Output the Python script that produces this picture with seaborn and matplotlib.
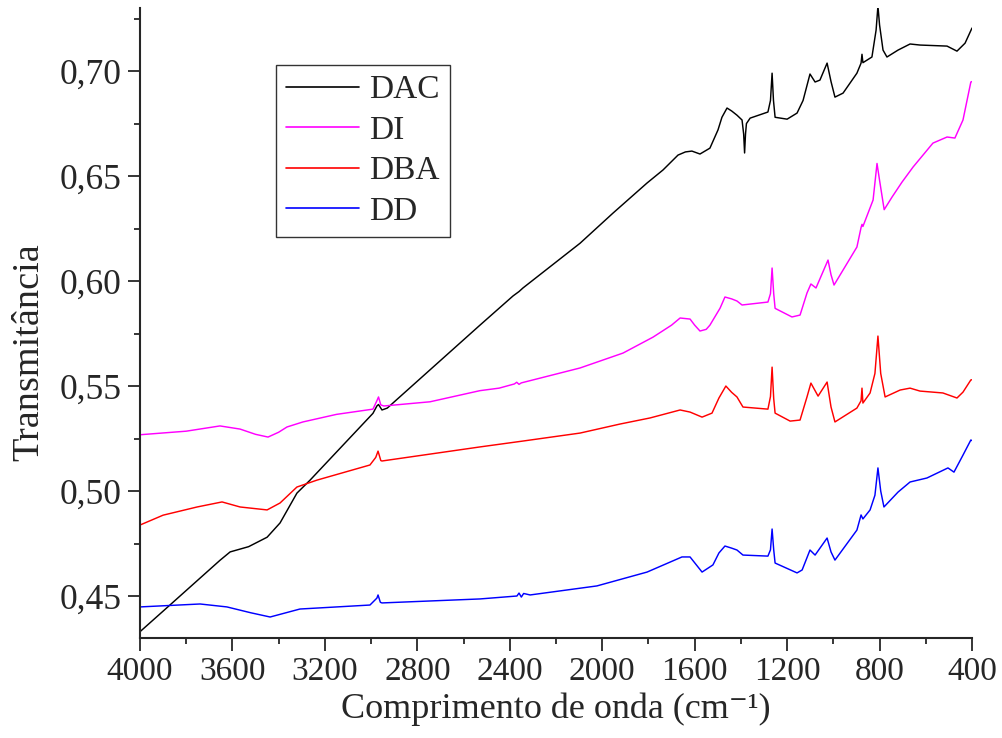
import numpy as np
import pandas as pd
import matplotlib
matplotlib.use("Agg")
import matplotlib.pyplot as plt
from matplotlib.ticker import FixedLocator, MultipleLocator
import seaborn as sns

# ---------------- data ----------------
wn_dac = [4000, 3900, 3654, 3610, 3530, 3450, 3394, 3321, 3264, 3122, 2992, 2975, 2968, 2953, 2930,
          2529, 2386, 2360, 2343, 2096, 1953, 1806, 1737, 1672, 1640, 1612, 1577, 1534, 1499, 1482,
          1460, 1440, 1417, 1395, 1388, 1384, 1380, 1376, 1360, 1283, 1272, 1265, 1259, 1252, 1200,
          1157, 1131, 1101, 1079, 1058, 1027, 1010, 993, 958, 898, 880, 876, 872, 833, 815, 807, 800,
          785, 768, 720, 668, 625, 508, 465, 430, 400]
t_dac = [0.433, 0.4428, 0.467, 0.471, 0.4735, 0.478, 0.4848, 0.499, 0.5052, 0.5218, 0.537, 0.5405,
         0.5412, 0.5386, 0.5395, 0.579, 0.5929, 0.5950, 0.5967, 0.618, 0.6324, 0.6467, 0.6529, 0.660,
         0.6615, 0.6619, 0.6605, 0.6633, 0.672, 0.678, 0.6824, 0.681, 0.679, 0.6767, 0.670, 0.661,
         0.670, 0.675, 0.6776, 0.6805, 0.686, 0.699, 0.686, 0.678, 0.6771, 0.680, 0.686, 0.6986,
         0.6948, 0.6957, 0.7038, 0.695, 0.6876, 0.6895, 0.699, 0.7038, 0.708, 0.704, 0.7067, 0.7195,
         0.731, 0.722, 0.710, 0.7067, 0.710, 0.7129, 0.7124, 0.7119, 0.7095, 0.7133, 0.7205]

wn_di = [4000, 3800, 3654, 3567, 3500, 3446, 3400, 3364, 3295, 3150, 2992, 2975, 2968, 2958, 2945,
         2745, 2529, 2446, 2380, 2370, 2360, 2350, 2096, 1910, 1780, 1700, 1663, 1620, 1600, 1577,
         1550, 1534, 1490, 1469, 1440, 1417, 1395, 1283, 1272, 1265, 1258, 1252, 1179, 1144, 1114,
         1097, 1075, 1023, 1010, 997, 898, 880, 876, 872, 828, 811, 800, 780, 746, 703, 655, 569,
         508, 474, 439, 405, 400]
t_di = [0.5268, 0.5285, 0.531, 0.5295, 0.527, 0.5257, 0.528, 0.5305, 0.5329, 0.5365, 0.539, 0.543,
        0.5448, 0.541, 0.5405, 0.5425, 0.5478, 0.549, 0.551, 0.5518, 0.5508, 0.5515, 0.5586, 0.5657,
        0.5733, 0.579, 0.5824, 0.5819, 0.579, 0.5762, 0.577, 0.579, 0.5871, 0.5924, 0.5915, 0.5905,
        0.5886, 0.590, 0.594, 0.6062, 0.594, 0.587, 0.5829, 0.5838, 0.5943, 0.5986, 0.5967, 0.610,
        0.603, 0.5981, 0.6162, 0.6255, 0.627, 0.626, 0.6386, 0.656, 0.648, 0.634, 0.640, 0.6471,
        0.6543, 0.6657, 0.6686, 0.6681, 0.6767, 0.6948, 0.695]

wn_dba = [4000, 3900, 3753, 3645, 3567, 3450, 3394, 3321, 3234, 3005, 2980, 2970, 2958, 2953, 2529,
          2343, 2096, 1923, 1793, 1663, 1620, 1568, 1525, 1495, 1465, 1440, 1417, 1391, 1283, 1272,
          1265, 1258, 1252, 1187, 1144, 1114, 1097, 1066, 1027, 1010, 993, 898, 880, 876, 872, 841,
          820, 807, 795, 776, 711, 668, 625, 526, 465, 439, 405, 400]
t_dba = [0.4838, 0.4885, 0.4924, 0.4948, 0.4924, 0.491, 0.4943, 0.5019, 0.5052, 0.5124, 0.516,
         0.519, 0.5145, 0.5143, 0.521, 0.5238, 0.5276, 0.5319, 0.5348, 0.5386, 0.5376, 0.5352,
         0.5371, 0.5443, 0.550, 0.547, 0.5448, 0.540, 0.539, 0.545, 0.559, 0.544, 0.5371, 0.5333,
         0.5338, 0.5448, 0.5514, 0.5452, 0.5519, 0.540, 0.5329, 0.5395, 0.543, 0.549, 0.5419, 0.5467,
         0.556, 0.5738, 0.556, 0.5448, 0.5481, 0.549, 0.5476, 0.5467, 0.5443, 0.5471, 0.5529, 0.553]

wn_dd = [4000, 3740, 3624, 3520, 3437, 3308, 3005, 2975, 2970, 2960, 2953, 2529, 2369, 2360, 2350,
         2340, 2312, 2023, 1806, 1655, 1620, 1568, 1521, 1495, 1469, 1440, 1417, 1391, 1283, 1272,
         1265, 1258, 1252, 1157, 1135, 1101, 1079, 1027, 1010, 993, 898, 880, 872, 841, 820, 807,
         795, 781, 720, 668, 595, 504, 478, 439, 405, 400]
t_dd = [0.4448, 0.4462, 0.4448, 0.442, 0.440, 0.4438, 0.4457, 0.449, 0.4505, 0.447, 0.4467, 0.4486,
        0.450, 0.4514, 0.4495, 0.4512, 0.4505, 0.4548, 0.4614, 0.4686, 0.4686, 0.4614, 0.4648,
        0.4705, 0.4738, 0.4728, 0.4719, 0.4695, 0.469, 0.472, 0.4819, 0.472, 0.4657, 0.461, 0.4624,
        0.4719, 0.4695, 0.4776, 0.471, 0.4671, 0.4814, 0.4886, 0.4867, 0.491, 0.498, 0.511, 0.500,
        0.4924, 0.4995, 0.5043, 0.5062, 0.511, 0.509, 0.5171, 0.5243, 0.524]

series_names = ["DAC", "DI", "DBA", "DD"]
series_colors = ["#000000", "#FF00FF", "#FF0000", "#0000FF"]

x_ticks = [4000, 3600, 3200, 2800, 2400, 2000, 1600, 1200, 800, 400]
x_tick_labels = ["4000", "3600", "3200", "2800", "2400", "2000", "1600", "1200", "800", "400"]
y_ticks = [0.45, 0.50, 0.55, 0.60, 0.65, 0.70]
y_tick_labels = ["0,45", "0,50", "0,55", "0,60", "0,65", "0,70"]

x_label = "Comprimento de onda (cm\u207B\u00B9)"
y_label = "Transmitância"

# ---------------- build long table ----------------
frames = []
for name, wn, tv in zip(series_names, [wn_dac, wn_di, wn_dba, wn_dd], [t_dac, t_di, t_dba, t_dd]):
    frames.append(pd.DataFrame({"wn": wn, "T": tv, "amostra": name}))
df = pd.concat(frames, ignore_index=True)

# ---------------- plot ----------------
sns.set_style("ticks")
plt.rcParams["font.family"] = ["Liberation Serif", "DejaVu Serif"]

fig = plt.figure(figsize=(10.03, 7.38), dpi=100)
ax = fig.add_axes([140 / 1003, 1 - 638 / 738, 832 / 1003, (638 - 8.3) / 738])

sns.lineplot(data=df, x="wn", y="T", hue="amostra", hue_order=series_names,
             palette=dict(zip(series_names, series_colors)), estimator=None, sort=False,
             linewidth=1.05, ax=ax)

ax.set_xlim(4000, 400)
ax.set_ylim(0.430, 0.7299)

ax.xaxis.set_major_locator(FixedLocator(x_ticks))
ax.set_xticklabels(x_tick_labels)
ax.xaxis.set_minor_locator(MultipleLocator(200))
ax.yaxis.set_major_locator(FixedLocator(y_ticks))
ax.set_yticklabels(y_tick_labels)
ax.yaxis.set_minor_locator(MultipleLocator(0.025))

ax.tick_params(which="major", direction="out", length=9, width=1.3, pad=4)
ax.tick_params(axis="x", which="major", labelsize=24)
ax.tick_params(axis="y", which="major", labelsize=25.5)
ax.tick_params(which="minor", direction="out", length=4.5, width=1.3)

for s in ["top", "right"]:
    ax.spines[s].set_visible(False)
for s in ["left", "bottom"]:
    ax.spines[s].set_linewidth(1.5)

ax.set_xlabel(x_label, fontsize=26, labelpad=4)
ax.set_ylabel(y_label, fontsize=27.5)
ax.yaxis.set_label_coords(-0.113, 0.454)

leg = ax.legend(loc="upper left", bbox_to_anchor=(0.1635, 0.91), fontsize=24, frameon=True,
                fancybox=False, edgecolor="black", handlelength=2.2, handletextpad=0.3,
                labelspacing=0.3, borderpad=0.3, borderaxespad=0)
leg.get_frame().set_linewidth(1.0)
for line in leg.get_lines():
    line.set_linewidth(1.2)

fig.savefig("out.png", dpi=100)
